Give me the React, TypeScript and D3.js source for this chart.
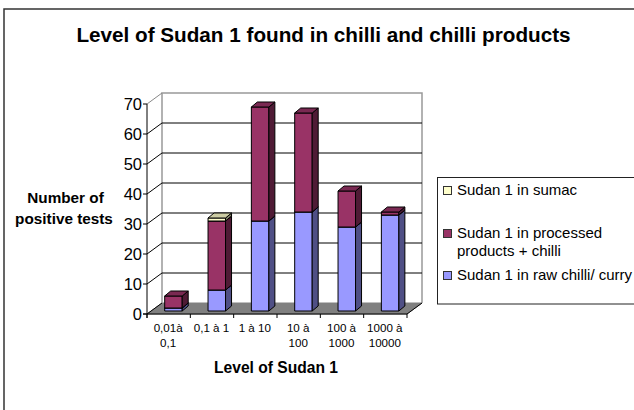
import React from "react";
import * as d3 from "d3";

const categories = [["0,01à", "0,1"], ["0,1 à 1"], ["1 à 10"], ["10 à", "100"], ["100 à", "1000"], ["1000 à", "10000"]];
const raw = [1, 7, 30, 33, 28, 32];
const processed = [4, 23, 38, 33, 12, 1];
const sumac = [0, 1, 0, 0, 0, 0];
const yTicks = [0, 10, 20, 30, 40, 50, 60, 70];
const seriesList = [
  { values: raw, front: "#9999ff", side: "#4f4f85", top: "#7a7acc" },
  { values: processed, front: "#993366", side: "#4f1b35", top: "#7a2952" },
  { values: sumac, front: "#ffffcc", side: "#85856a", top: "#cccca3" },
];
const legend = [
  { lines: ["Sudan 1 in sumac"], color: "#ffffcc", y: 195 },
  { lines: ["Sudan 1 in processed", "products + chilli"], color: "#993366", y: 238 },
  { lines: ["Sudan 1 in raw chilli/ curry"], color: "#9999ff", y: 280 },
];

const font = "Liberation Sans, Arial, sans-serif";
const x0 = 147, x1 = 407, y0 = 314, y1 = 104;
const wallDx = 15, wallDy = -11;
const barDx = 6, barDy = -5;
const barInsetBottom = 3;
const x = d3.scaleBand<number>().domain(d3.range(6)).range([x0, x1]);
const y = d3.scaleLinear().domain([0, 70]).range([y0, y1]);

export default function App() {
  const bw = x.bandwidth();
  const barW = 17.5;
  const barOff = 17.7;
  const pts = (a: number[][]) => a.map((p) => p.join(",")).join(" ");
  const stack: React.ReactNode[] = [];
  categories.forEach((_, i) => {
    let acc = 0;
    const left = (x(i) as number) + barOff;
    const right = left + barW;
    seriesList.forEach((s, si) => {
      const v = s.values[i];
      if (!v) return;
      const b = y(acc) - barInsetBottom;
      const t = y(acc + v) - barInsetBottom;
      acc += v;
      stack.push(
        <g key={`${i}-${si}`} stroke="#000" strokeWidth={1} strokeLinejoin="round">
          <rect x={left} y={t} width={barW} height={b - t} fill={s.front} />
          <polygon points={pts([[right, t], [right + barDx, t + barDy], [right + barDx, b + barDy], [right, b]])} fill={s.side} />
          <polygon points={pts([[left, t], [left + barDx, t + barDy], [right + barDx, t + barDy], [right, t]])} fill={s.top} />
        </g>
      );
    });
  });
  return (
    <svg width={634} height={410} style={{ position: "absolute", left: 0, top: 0 }} fontFamily={font}>
      <rect x={0} y={0} width={634} height={410} fill="#fff" />
      <path d="M4,410 V9 H634" fill="none" stroke="#333" strokeWidth={1.5} />
      <text x={323.5} y={42} textAnchor="middle" fontSize={20.7} fontWeight="bold" fill="#000">Level of Sudan 1 found in chilli and chilli products</text>

      {/* floor */}
      <polygon points={pts([[x0, y0], [x0 + wallDx, y0 + wallDy], [x1 + wallDx, y0 + wallDy], [x1, y0]])} fill="#808080" stroke="#808080" />
      {/* walls */}
      <polyline points={pts([[x0 + wallDx, y0 + wallDy], [x0 + wallDx, y1 + wallDy], [x1 + wallDx, y1 + wallDy], [x1 + wallDx, y0 + wallDy]])} fill="none" stroke="#999" strokeWidth={1.5} />
      {yTicks.slice(1, -1).map((t) => (
        <line key={t} x1={x0 + wallDx} x2={x1 + wallDx} y1={y(t) + wallDy} y2={y(t) + wallDy} stroke="#000" />
      ))}
      {yTicks.slice(0, -1).map((t) => (
        <line key={t} x1={x0} x2={x0 + wallDx} y1={y(t)} y2={y(t) + wallDy} stroke="#000" />
      ))}
      <line x1={x0} x2={x0 + wallDx} y1={y(70)} y2={y(70) + wallDy} stroke="#888" />

      {/* axes */}
      <line x1={x0} x2={x0} y1={y1} y2={y0 + 4} stroke="#000" />
      <line x1={x0 - 4} x2={x1} y1={y0} y2={y0} stroke="#000" />
      <line x1={x1} x2={x1 + wallDx} y1={y0} y2={y0 + wallDy} stroke="#000" />
      {yTicks.map((t) => (
        <g key={t}>
          <line x1={x0 - 4} x2={x0} y1={y(t)} y2={y(t)} stroke="#000" />
          <text x={x0 - 5} y={y(t) + 6} textAnchor="end" fontSize={16.5} fill="#000">{t}</text>
        </g>
      ))}
      {d3.range(7).map((i) => (
        <line key={i} x1={x0 + i * bw} x2={x0 + i * bw} y1={y0} y2={y0 + 4} stroke="#000" />
      ))}
      {stack}
      {categories.map((c, i) => (
        <text key={i} textAnchor="middle" fontSize={11.6} fill="#000">
          {c.map((l, j) => (
            <tspan key={j} x={(x(i) as number) + bw / 2 - 0.5} y={332 + j * 15}>{l}</tspan>
          ))}
        </text>
      ))}

      <text x={276} y={373} textAnchor="middle" fontSize={15.6} fontWeight="bold" fill="#000">Level of Sudan 1</text>
      <text textAnchor="middle" fontSize={15.3} fontWeight="bold" fill="#000">
        <tspan x={65.5} y={203}>Number of</tspan>
        <tspan x={64} y={224}>positive tests</tspan>
      </text>

      {/* legend */}
      <rect x={437.5} y={177.5} width={210} height={126.5} fill="#fff" stroke="#222" />
      {legend.map((l) => (
        <g key={l.y}>
          <rect x={443.5} y={l.y - 8.5} width={8} height={8} fill={l.color} stroke="#333" />
          <text fontSize={15} fill="#000">
            {l.lines.map((t, j) => (
              <tspan key={j} x={457} y={l.y + j * 18}>{t}</tspan>
            ))}
          </text>
        </g>
      ))}
    </svg>
  );
}
